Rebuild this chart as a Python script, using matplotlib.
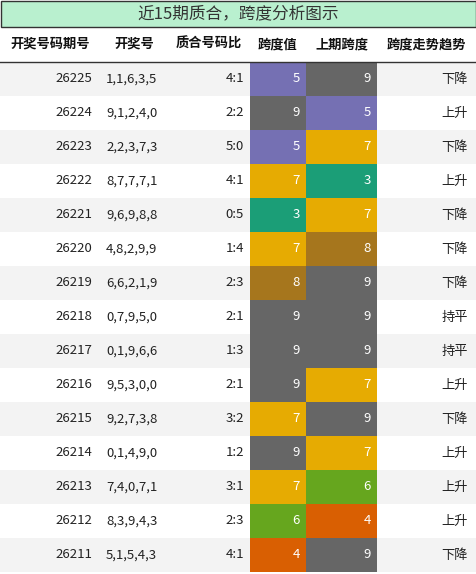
import matplotlib
matplotlib.use("Agg")
import matplotlib.pyplot as plt
from matplotlib.patches import Rectangle

plt.rcParams['font.family'] = ['Noto Sans CJK SC', 'DejaVu Sans']

title = "近15期质合，跨度分析图示"
headers = ["开奖号码期号", "开奖号", "质合号码比", "跨度值", "上期跨度", "跨度走势趋势"]
periods = ["26225","26224","26223","26222","26221","26220","26219","26218","26217","26216","26215","26214","26213","26212","26211"]
draws = ["1,1,6,3,5","9,1,2,4,0","2,2,3,7,3","8,7,7,7,1","9,6,9,8,8","4,8,2,9,9","6,6,2,1,9","0,7,9,5,0","0,1,9,6,6","9,5,3,0,0","9,2,7,3,8","0,1,4,9,0","7,4,0,7,1","8,3,9,4,3","5,1,5,4,3"]
ratios = ["4:1","2:2","5:0","4:1","0:5","1:4","2:3","2:1","1:3","2:1","3:2","1:2","3:1","2:3","4:1"]
spans = [5,9,5,7,3,7,8,9,9,9,7,9,7,6,4]
prev_spans = [9,5,7,3,7,8,9,9,9,7,9,7,6,4,9]
trends = ["下降","上升","下降","上升","下降","下降","下降","持平","持平","上升","下降","上升","上升","上升","下降"]

palette = {3:"#1b9e77",4:"#d95f02",5:"#7570b3",6:"#66a61e",7:"#e6ab02",8:"#a6761d",9:"#666666"}

W, H = 476, 574
fig = plt.figure(figsize=(W/100, H/100), dpi=100)
ax = fig.add_axes([0,0,1,1])
ax.set_xlim(0, W); ax.set_ylim(H, 0); ax.axis('off')

cols = [0, 100, 168, 250, 306, 377, 476]
title_h, head_h, row_h = 26, 36, 34

ax.add_patch(Rectangle((0.5,0.5), W-1, title_h, facecolor="#b9f0cf", edgecolor="#333333", lw=1))
ax.text(W/2, title_h/2+1, title, ha='center', va='center', fontsize=12, color="#333333")

hy = title_h + head_h/2
for i, h in enumerate(headers):
    ax.text((cols[i]+cols[i+1])/2, hy, h, ha='center', va='center', fontsize=9.5, fontweight='bold', color='#111111')
ax.plot([0, W], [title_h+head_h, title_h+head_h], color='#333333', lw=1)

for r in range(len(periods)):
    y0 = title_h + head_h + r*row_h
    yc = y0 + row_h/2
    if r % 2 == 0:
        ax.add_patch(Rectangle((0, y0), W, row_h, facecolor="#f3f3f3", edgecolor='none'))
    ax.add_patch(Rectangle((cols[3], y0), cols[4]-cols[3], row_h, facecolor=palette[spans[r]], edgecolor='none'))
    ax.add_patch(Rectangle((cols[4], y0), cols[5]-cols[4], row_h, facecolor=palette[prev_spans[r]], edgecolor='none'))
    ax.text(cols[1]-8, yc, periods[r], ha='right', va='center', fontsize=9.5, color='#222222')
    ax.text(cols[1]+6, yc, draws[r], ha='left', va='center', fontsize=9.5, color='#222222')
    ax.text(cols[3]-6, yc, ratios[r], ha='right', va='center', fontsize=9.5, color='#222222')
    ax.text(cols[4]-6, yc, str(spans[r]), ha='right', va='center', fontsize=9.5, color='white')
    ax.text(cols[5]-6, yc, str(prev_spans[r]), ha='right', va='center', fontsize=9.5, color='white')
    ax.text(cols[6]-8, yc, trends[r], ha='right', va='center', fontsize=9.5, color='#222222')

fig.savefig("out.png", dpi=100)
